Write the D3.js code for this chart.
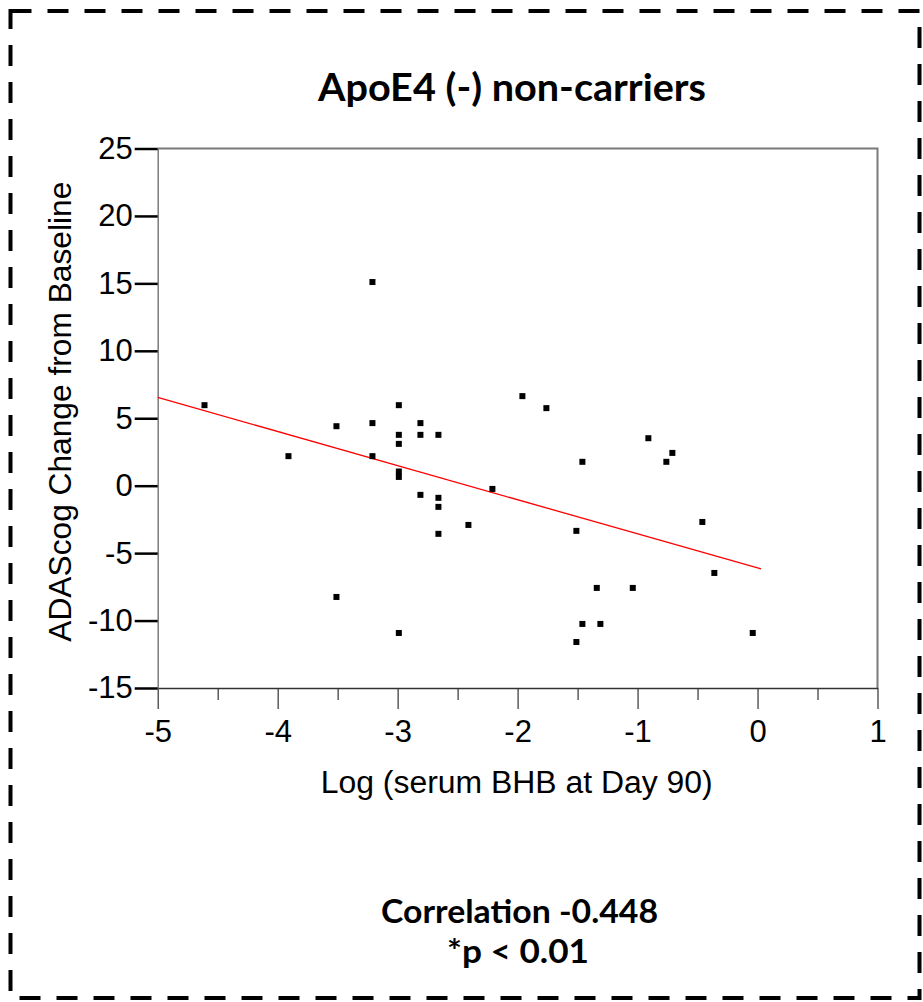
<!DOCTYPE html>
<html>
<head>
<meta charset="utf-8">
<script src="https://cdn.jsdelivr.net/npm/d3@7"></script>
<style>
  body { margin: 0; background: #fff; }
  svg { display: block; }
</style>
</head>
<body>
<svg id="chart"></svg>
<script>
// data
var logBHB = [-4.61, -3.91, -3.51, -3.51, -3.21, -3.21, -3.21, -2.99, -2.99, -2.99,
              -2.99, -2.99, -2.99, -2.81, -2.81, -2.81, -2.66, -2.66, -2.66, -2.66,
              -2.41, -2.21, -1.96, -1.76, -1.51, -1.51, -1.46, -1.46, -1.34, -1.31,
              -1.04, -0.91, -0.76, -0.71, -0.46, -0.36, -0.04];
var adasChange = [5.97, 2.19, 4.41, -8.25, 15.1, 4.64, 2.19, 5.97, 3.77, 3.10,
                  1.05, 0.65, -10.92, 4.64, 3.77, -0.68, 3.77, -0.90, -1.57, -3.57,
                  -2.91, -0.24, 6.64, 5.75, -3.35, -11.59, 1.77, -10.25, -7.58, -10.25,
                  -7.58, 3.52, 1.77, 2.43, -2.69, -6.47, -10.92];
var fitSlope = -2.53;
var fitIntercept = -6.1;
var fitRange = [-5, 0.03];

var xTicks = [-5, -4, -3, -2, -1, 0, 1];
var xMinorTicks = [-4.5, -3.5, -2.5, -1.5, -0.5, 0.5];
var yTicks = [-15, -10, -5, 0, 5, 10, 15, 20, 25];

var title = "ApoE4 (-) non-carriers";
var xTitle = "Log (serum BHB at Day 90)";
var yTitle = "ADAScog Change from Baseline";
var noteLines = ["Correlation -0.448", "*p < 0.01"];

var width = 923, height = 1002;
var svg = d3.select("#chart").attr("width", width).attr("height", height);

// dashed frame round the whole figure
svg.append("rect")
    .attr("x", 10.5).attr("y", 11)
    .attr("width", 909).attr("height", 987)
    .attr("fill", "none")
    .attr("stroke", "#000")
    .attr("stroke-width", 4)
    .attr("stroke-dasharray", "21,16");

var x = d3.scaleLinear().domain([-5, 1]).range([157.7, 877.5]);
var y = d3.scaleLinear().domain([-15, 25]).range([688, 148.5]);

var axisFont = "'Liberation Sans', Arial, sans-serif";
var boldFont = "Lato, 'Open Sans', sans-serif";

// top and right frame of the plot
svg.append("path")
    .attr("d", "M" + x(-5) + "," + y(25) + "H" + x(1) + "V" + y(-15))
    .attr("fill", "none")
    .attr("stroke", "#7a7a7a")
    .attr("stroke-width", 2);

// x axis, minor ticks first
var xMinor = svg.append("g")
    .attr("transform", "translate(0," + y(-15) + ")")
    .call(d3.axisBottom(x).tickValues(xMinorTicks).tickSize(12).tickFormat(""));
xMinor.select(".domain").remove();
xMinor.selectAll("line").attr("stroke", "#333").attr("stroke-width", 1.2);

var xAxis = svg.append("g")
    .attr("transform", "translate(0," + y(-15) + ")")
    .call(d3.axisBottom(x).tickValues(xTicks).tickSize(21).tickPadding(11)
        .tickFormat(d3.format("d")).tickSizeOuter(0));
xAxis.select(".domain").attr("stroke", "#333").attr("stroke-width", 1.5);
xAxis.selectAll("line").attr("stroke", "#333").attr("stroke-width", 1.2);
xAxis.selectAll("text")
    .attr("font-family", axisFont).attr("font-size", 31).attr("fill", "#000")
    .text(function(d) { return d < 0 ? "-" + Math.abs(d) : d; });

// y axis
var yAxis = svg.append("g")
    .attr("transform", "translate(" + x(-5) + ",0)")
    .call(d3.axisLeft(y).tickValues(yTicks).tickSize(23).tickPadding(2).tickSizeOuter(0));
yAxis.select(".domain").attr("stroke", "#7a7a7a").attr("stroke-width", 1.5);
yAxis.selectAll("line").attr("stroke", "#000").attr("stroke-width", 2.5);
yAxis.selectAll("text")
    .attr("font-family", axisFont).attr("font-size", 31).attr("fill", "#000")
    .text(function(d) { return d < 0 ? "-" + Math.abs(d) : d; });

// regression line
var line = d3.line()
    .x(function(d) { return x(d); })
    .y(function(d) { return y(fitIntercept + fitSlope * d); });
svg.append("path")
    .datum(fitRange)
    .attr("d", line)
    .attr("fill", "none")
    .attr("stroke", "#ff0000")
    .attr("stroke-width", 1.3);

// points
var size = 6;
svg.append("g").selectAll("rect")
    .data(d3.range(logBHB.length))
    .enter().append("rect")
    .attr("x", function(i) { return x(logBHB[i]) - size / 2; })
    .attr("y", function(i) { return y(adasChange[i]) - size / 2; })
    .attr("width", size).attr("height", size)
    .attr("fill", "#000");

// axis titles
svg.append("text")
    .attr("x", 516.7).attr("y", 793)
    .attr("text-anchor", "middle")
    .attr("font-family", axisFont).attr("font-size", 31)
    .attr("textLength", 392).attr("lengthAdjust", "spacingAndGlyphs")
    .text(xTitle);

svg.append("text")
    .attr("transform", "translate(71,411.7) rotate(-90)")
    .attr("text-anchor", "middle")
    .attr("font-family", axisFont).attr("font-size", 31)
    .attr("textLength", 460).attr("lengthAdjust", "spacingAndGlyphs")
    .text(yTitle);

// chart title
svg.append("text")
    .attr("x", 512).attr("y", 101)
    .attr("text-anchor", "middle")
    .attr("font-family", boldFont).attr("font-weight", "bold").attr("font-size", 38)
    .attr("textLength", 388).attr("lengthAdjust", "spacingAndGlyphs")
    .text(title);

// correlation note
var noteX = [519.5, 518], noteY = [923, 963], noteW = [277, 142];
svg.selectAll(".note")
    .data(noteLines)
    .enter().append("text")
    .attr("class", "note")
    .attr("x", function(d, i) { return noteX[i]; })
    .attr("y", function(d, i) { return noteY[i]; })
    .attr("text-anchor", "middle")
    .attr("font-family", boldFont).attr("font-weight", "bold").attr("font-size", 33)
    .attr("textLength", function(d, i) { return noteW[i]; })
    .attr("lengthAdjust", "spacingAndGlyphs")
    .text(function(d) { return d; });
</script>
</body>
</html>
